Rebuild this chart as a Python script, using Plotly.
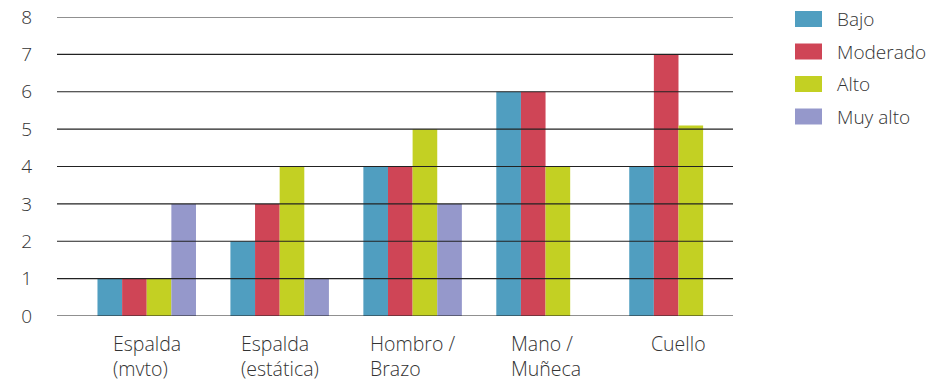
import plotly.graph_objects as go

categories = ["Espalda<br>(mvto)", "Espalda<br>(estática)", "Hombro /<br>Brazo", "Mano /<br>Muñeca", "Cuello"]
series_names = ["Bajo", "Moderado", "Alto", "Muy alto"]
bajo = [1, 2, 4, 6, 4]
moderado = [1, 3, 4, 6, 7]
alto = [1, 4, 5, 4, 5.1]
muy_alto = [3, 1, 3, None, None]
y_ticks = [0, 1, 2, 3, 4, 5, 6, 7, 8]

colors = ["#509EC0", "#CF4556", "#C3D023", "#9598CB"]
values = [bajo, moderado, alto, muy_alto]
FONT = "Open Sans"
TXT = "#333333"

fig = go.Figure()
idx = list(range(len(categories)))
for name, vals, col in zip(series_names, values, colors):
    fig.add_trace(go.Bar(x=idx, y=vals, name=name, marker=dict(color=col, line=dict(width=0)),
                         showlegend=False))

L, R, T, B = 57, 211, 17, 68
W, H = 944, 384
pw, ph = W - L - R, H - T - B

shapes = []
for v in y_ticks:
    shapes.append(dict(type="line", xref="paper", yref="y", x0=0, x1=1, y0=v, y1=v,
                       line=dict(color="#222222", width=1.2), layer="above"))

annotations = []
for i, c in enumerate(categories):
    annotations.append(dict(x=i, y=0, xref="x", yref="y", text=c, showarrow=False,
                            xanchor="center", yanchor="top", align="left", yshift=-12,
                            font=dict(family=FONT, size=19.5, color=TXT, weight=300)))

leg_y = [19, 51.5, 84, 116.5]
for name, col, cy in zip(series_names, colors, leg_y):
    x0 = (795 - L) / pw
    x1 = (822 - L) / pw
    y0 = (H - B - (cy - 8)) / ph
    y1 = (H - B - (cy + 8)) / ph
    shapes.append(dict(type="rect", xref="paper", yref="paper", x0=x0, x1=x1, y0=y0, y1=y1,
                       fillcolor=col, line=dict(width=0)))
    annotations.append(dict(x=(835 - L) / pw, y=(H - B - cy) / ph, xref="paper", yref="paper",
                            text=name, showarrow=False, xanchor="left", yanchor="middle",
                            font=dict(family=FONT, size=19, color=TXT, weight=300)))

fig.update_layout(
    width=W, height=H,
    margin=dict(l=L, r=R, t=T, b=B, autoexpand=False),
    barmode="group", bargap=0.259, bargroupgap=0,
    plot_bgcolor="white", paper_bgcolor="white",
    shapes=shapes, annotations=annotations,
    font=dict(family=FONT, size=18, color=TXT),
    xaxis=dict(range=[-0.675, 4.41], showticklabels=False, showgrid=False, zeroline=False,
               showline=False, fixedrange=True, automargin=False),
    yaxis=dict(range=[0, 8], tickvals=y_ticks, showgrid=False, zeroline=False, showline=False,
               automargin=False, ticklabelstandoff=24,
               tickfont=dict(family=FONT, size=19, color=TXT, weight=300)),
)

fig.write_html("out.html")
